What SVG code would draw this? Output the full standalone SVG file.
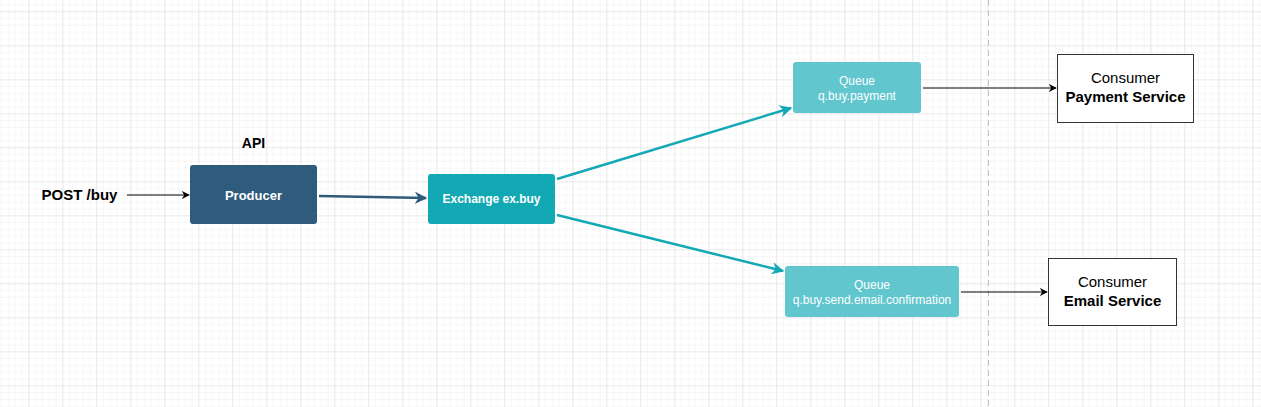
<svg xmlns="http://www.w3.org/2000/svg" width="1261" height="407" viewBox="0 0 1261 407">
<style>
.lbl{font-family:"Liberation Sans",Arial,sans-serif;}
.b{font-weight:bold;}
.w{fill:#ffffff;}
.k{fill:#000000;}
</style>
<defs>
<pattern id="minor" x="28.3" y="11.3" width="6.8" height="6.8" patternUnits="userSpaceOnUse">
<path d="M0 0V6.8M0 0H6.8" fill="none" stroke="#f0f0f0" stroke-width="1"/>
</pattern>
<pattern id="major" x="28.3" y="11.3" width="34" height="34" patternUnits="userSpaceOnUse">
<path d="M0 0V34M0 0H34" fill="none" stroke="#dcdcdc" stroke-width="1"/>
</pattern>
<marker id="ak" viewBox="0 0 10 10" refX="9" refY="5" markerWidth="8" markerHeight="8" markerUnits="userSpaceOnUse" orient="auto">
<path d="M0 0L10 5L0 10L3 5Z" fill="#000"/>
</marker>
<marker id="ab" viewBox="0 0 10 10" refX="9" refY="5" markerWidth="5" markerHeight="5" orient="auto">
<path d="M0 0L10 5L0 10L3 5Z" fill="#2F5B7C"/>
</marker>
<marker id="at" viewBox="0 0 10 10" refX="9" refY="5" markerWidth="5" markerHeight="5" orient="auto">
<path d="M0 0L10 5L0 10L3 5Z" fill="#12A8B4"/>
</marker>
</defs>
<rect width="1261" height="407" fill="#ffffff"/>
<rect width="1261" height="407" fill="url(#minor)"/>
<rect width="1261" height="407" fill="url(#major)"/>
<line x1="988.5" y1="0" x2="988.5" y2="407" stroke="#c0c0c0" stroke-width="1" stroke-dasharray="6 4"/>

<g id="connectors" fill="none">
<line x1="127" y1="195" x2="189" y2="195" stroke="#000" stroke-width="1" marker-end="url(#ak)"/>
<line x1="319" y1="196" x2="426" y2="198" stroke="#2F5B7C" stroke-width="2.5" marker-end="url(#ab)"/>
<line x1="557" y1="179" x2="791" y2="108" stroke="#12A8B4" stroke-width="2.5" marker-end="url(#at)"/>
<line x1="557" y1="215" x2="783" y2="271" stroke="#12A8B4" stroke-width="2.5" marker-end="url(#at)"/>
<line x1="923" y1="88" x2="1056" y2="88" stroke="#000" stroke-width="1" marker-end="url(#ak)"/>
<line x1="961" y1="292" x2="1047" y2="292" stroke="#000" stroke-width="1" marker-end="url(#ak)"/>
</g>

<g id="post-buy">
<text class="lbl b k" x="79.5" y="200" font-size="15" text-anchor="middle">POST /buy</text>
</g>
<g id="api-label">
<text class="lbl b k" x="253.5" y="148" font-size="14" text-anchor="middle">API</text>
</g>
<g id="producer">
<rect x="190" y="165" width="127" height="59" rx="3" fill="#2F5B7C"/>
<text class="lbl b w" x="253.5" y="200" font-size="13" text-anchor="middle">Producer</text>
</g>
<g id="exchange">
<rect x="428" y="174" width="127" height="50" rx="3" fill="#12A8B4"/>
<text class="lbl b w" x="491.5" y="203" font-size="12" text-anchor="middle">Exchange ex.buy</text>
</g>
<g id="queue-payment">
<rect x="793" y="62" width="128" height="51" rx="3" fill="#61C6CE"/>
<text class="lbl w" x="857" y="85" font-size="12" text-anchor="middle">Queue</text>
<text class="lbl w" x="857" y="100" font-size="12" text-anchor="middle">q.buy.payment</text>
</g>
<g id="queue-email">
<rect x="785" y="266" width="174" height="51" rx="3" fill="#61C6CE"/>
<text class="lbl w" x="872" y="289" font-size="12" text-anchor="middle">Queue</text>
<text class="lbl w" x="872" y="304" font-size="12" text-anchor="middle">q.buy.send.email.confirmation</text>
</g>
<g id="consumer-payment">
<rect x="1057.5" y="54.5" width="136" height="68" fill="#ffffff" stroke="#333333" stroke-width="1"/>
<text class="lbl k" x="1125.5" y="83" font-size="15" text-anchor="middle">Consumer</text>
<text class="lbl b k" x="1125.5" y="102" font-size="15" text-anchor="middle">Payment Service</text>
</g>
<g id="consumer-email">
<rect x="1048.5" y="258.5" width="128" height="67" fill="#ffffff" stroke="#333333" stroke-width="1"/>
<text class="lbl k" x="1112.5" y="287" font-size="15" text-anchor="middle">Consumer</text>
<text class="lbl b k" x="1112.5" y="306" font-size="15" text-anchor="middle">Email Service</text>
</g>
</svg>
